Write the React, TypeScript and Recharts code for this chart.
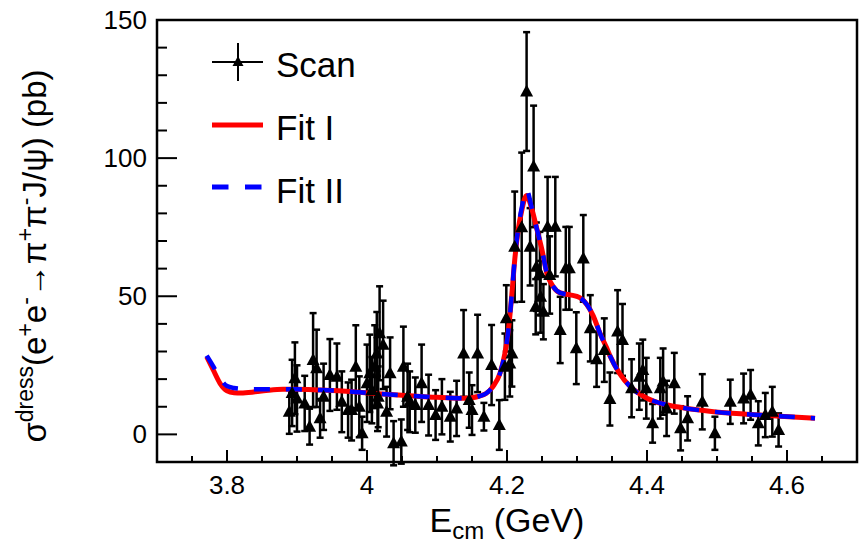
import React from "react";
import {
  ComposedChart,
  Scatter,
  Line,
  XAxis,
  YAxis,
  ErrorBar,
  ReferenceArea,
  Legend,
  Label,
} from "recharts";

// scan points (E in GeV, dressed cross section in pb, stat. error)
const scanE = [
  3.889, 3.893, 3.897, 3.9, 3.911, 3.918, 3.923, 3.928, 3.933, 3.938, 3.947, 3.957, 3.964, 3.973,
  3.978, 3.984, 3.989, 3.993, 4.0, 4.004, 4.007, 4.011, 4.014, 4.015, 4.016, 4.018, 4.023, 4.028,
  4.033, 4.038, 4.049, 4.052, 4.058, 4.061, 4.069, 4.078, 4.088, 4.098, 4.107, 4.119, 4.128, 4.138,
  4.146, 4.15, 4.158, 4.167, 4.178, 4.189, 4.197, 4.199, 4.204, 4.207, 4.211, 4.221, 4.228, 4.233,
  4.238, 4.241, 4.242, 4.247, 4.248, 4.252, 4.258, 4.261, 4.269, 4.276, 4.284, 4.289, 4.299, 4.309,
  4.319, 4.328, 4.339, 4.347, 4.358, 4.365, 4.378, 4.389, 4.394, 4.399, 4.408, 4.419, 4.423, 4.428,
  4.439, 4.448, 4.458, 4.479, 4.497, 4.519, 4.538, 4.548, 4.559, 4.569, 4.579, 4.588,
];
const scanSigma = [
  8.2, 15, 20.3, 13, 11.2, 2.8, 26.9, 23.9, 5.8, 13.6, 21.5, 20.9, 11.8, 8.8,
  8.8, 24.5, 10, 0.4, 18.5, 22.1, 16, 24.5, 29.3, 11.2, 13.6, 36.6, 32.4, 8.2,
  22.1, -3.2, -2.6, 24.5, 13.6, 11.8, 10.6, 18.5, 10.6, 7, 10, 6.4, 9.4, 29.3,
  12.4, 8.8, 29.3, 6.4, 25.1, 3.4, 24.5, 42, 25.7, 29.3, 67.9, 75, 124.1, 67.9,
  97, 46.2, 60.7, 58.3, 49.8, 44.4, 75.2, 57.7, 75.2, 37.8, 60.1, 60.1, 31.2, 63.7,
  38.4, 27.2, 30.5, 12.8, 37.2, 34.2, 16.7, 20.9, 23.3, 16.7, 4, 16.7, 19.1, 9.4,
  18.5, 2.2, 5.8, 11.8, 0.4, 11.8, 13, 14.3, 4, 7, 8.2, 1.6,
];
const scanErr = [
  8, 12, 13, 12, 10, 6.5, 17, 14, 7, 12, 13, 12, 11, 10,
  11, 15, 11, 6, 14, 14, 12, 15, 15, 10, 11, 17, 16, 9,
  13, 8, 8, 14.5, 12, 11, 10, 14, 11, 9, 10, 9, 10, 15.7,
  10, 9, 14, 5, 14.5, 9, 12, 12, 12, 12, 20, 27, 21.5, 14,
  22, 10, 16, 15, 13, 10, 18, 14, 18, 12, 15, 15, 13, 15.7,
  12, 10, 11.5, 9.6, 15, 13, 10.5, 12, 11, 11, 7, 11, 12, 10,
  11, 8, 8, 10, 6, 8, 9, 9, 8, 8, 9, 6,
];

// fit curves
const fitE = [
  3.771, 3.78, 3.79, 3.8, 3.81, 3.82, 3.84, 3.86, 3.88, 3.9, 3.93, 3.96, 4.0, 4.05, 4.1, 4.13, 4.15,
  4.16, 4.17, 4.18, 4.19, 4.197, 4.202, 4.207, 4.211, 4.216, 4.221, 4.228, 4.235, 4.242, 4.25,
  4.257, 4.266, 4.276, 4.29, 4.304, 4.314, 4.323, 4.333, 4.342, 4.347, 4.361, 4.376, 4.4, 4.423,
  4.447, 4.495, 4.542, 4.59, 4.64,
];
const fitISigma = [
  28.1, 23.5, 18.5, 15.8, 15.1, 15, 15.4, 16, 16.3, 16.3, 16.1, 15.8, 15, 14.2, 13.4, 13.1, 13.3,
  13.8, 14.8, 17.3, 22.1, 29.3, 37.8, 51, 63, 74, 81, 86.5, 82, 75, 66.7,
  58.3, 53.5, 51.2, 50.5, 49.5, 47, 43, 36.5, 31.5, 28.5, 22, 17.3, 13.1, 11,
  9.8, 8.2, 7.3, 6.6, 5.8,
];
const fitIISigma = [
  28.5, 24.8, 20.3, 17.5, 16.8, 16.5, 16.3, 16.3, 16.3, 16.3, 16.1, 15.8, 15, 14.2, 13.4, 13.1, 13.3,
  13.8, 14.8, 17.3, 22.1, 29.3, 37.8, 51, 63.5, 74.5, 82, 88.5, 82.4, 75, 66.7,
  58.3, 53.5, 51.2, 50.5, 49.5, 47, 43, 36.5, 31.5, 28.5, 22, 17.3, 13.1, 11,
  9.8, 8.2, 7.3, 6.6, 5.8,
];

const xTicks = [
  3.7, 3.75, 3.8, 3.85, 3.9, 3.95, 4.0, 4.05, 4.1, 4.15, 4.2, 4.25, 4.3, 4.35, 4.4, 4.45, 4.5, 4.55,
  4.6, 4.65, 4.7,
];
const xMajor = [3.8, 4.0, 4.2, 4.4, 4.6];
const yTicks = [-10, 0, 10, 20, 30, 40, 50, 60, 70, 80, 90, 100, 110, 120, 130, 140, 150];
const yMajor = [0, 50, 100, 150];

const FONT = '"Liberation Sans", Arial, Helvetica, sans-serif';

const scanData = scanE.map((E, i) => ({ E, s: scanSigma[i], err: scanErr[i] }));
const fitIData = fitE.map((E, i) => ({ E, s: fitISigma[i] }));
const fitIIData = fitE.map((E, i) => ({ E, s: fitIISigma[i] }));

const isIn = (arr: number[], v: number) => arr.some((m) => Math.abs(m - v) < 1e-6);

const XTick = (props: any) => {
  const { x, y, payload } = props;
  const v = payload.value;
  const major = isIn(xMajor, v);
  return (
    <g>
      <line x1={x} x2={x} y1={y} y2={y - (major ? 12 : 6)} stroke="#000" strokeWidth={2} />
      {major && (
        <text x={x} y={y + 32} textAnchor="middle" fontSize={26} fontFamily={FONT} fill="#000">
          {String(Number(v.toFixed(2)))}
        </text>
      )}
    </g>
  );
};

const YTick = (props: any) => {
  const { x, y, payload } = props;
  const v = payload.value;
  const major = isIn(yMajor, v);
  return (
    <g>
      <line x1={x} x2={x + (major ? 20 : 10)} y1={y} y2={y} stroke="#000" strokeWidth={2} />
      {major && (
        <text x={x - 10} y={y + 9} textAnchor="end" fontSize={26} fontFamily={FONT} fill="#000">
          {v}
        </text>
      )}
    </g>
  );
};

const YTitle = () => {
  const cy = 256;
  const bx = 46;
  return (
    <text
      x={bx}
      y={cy}
      transform={`rotate(-90, ${bx}, ${cy})`}
      textAnchor="middle"
      fontSize={33}
      fontFamily={FONT}
      fill="#000"
    >
      <tspan>σ</tspan>
      <tspan dy={-13} fontSize={23}>dress</tspan>
      <tspan dy={13}>(e</tspan>
      <tspan dy={-13} fontSize={23}>+</tspan>
      <tspan dy={13}>e</tspan>
      <tspan dy={-13} fontSize={23}>-</tspan>
      <tspan dy={13}>→π</tspan>
      <tspan dy={-13} fontSize={23}>+</tspan>
      <tspan dy={13}>π</tspan>
      <tspan dy={-13} fontSize={23}>-</tspan>
      <tspan dy={13}>J/ψ) (pb)</tspan>
    </text>
  );
};

const XTitle = (props: any) => {
  const vb = props.viewBox || { x: 157, y: 462, width: 700, height: 85 };
  const cx = vb.x + vb.width / 2;
  return (
    <text x={cx} y={532} textAnchor="middle" fontSize={34} fontFamily={FONT} fill="#000">
      <tspan>E</tspan>
      <tspan dy={7} fontSize={24}>cm</tspan>
      <tspan dy={-7}> (GeV)</tspan>
    </text>
  );
};

const Triangle = (props: any) => {
  const { cx, cy } = props;
  if (cx == null || cy == null) return null;
  return <path d={`M${cx},${cy - 7} L${cx + 6.5},${cy + 5} L${cx - 6.5},${cy + 5} Z`} fill="#000" />;
};

const LegendBox = () => (
  <svg width={190} height={190} style={{ overflow: "visible" }}>
    <line x1={12} x2={63} y1={32} y2={32} stroke="#000" strokeWidth={2} />
    <line x1={38} x2={38} y1={13} y2={51} stroke="#000" strokeWidth={2} />
    <path d="M38,26 L43.5,36 L32.5,36 Z" fill="#000" />
    <text x={76} y={47} fontSize={35} fontFamily={FONT} fill="#000">Scan</text>
    <line x1={12} x2={63} y1={95} y2={95} stroke="#ff0000" strokeWidth={5} />
    <text x={76} y={110} fontSize={35} fontFamily={FONT} fill="#000">Fit I</text>
    <line x1={12} x2={63} y1={157} y2={157} stroke="#0000ff" strokeWidth={5} strokeDasharray="16.5 16.5" />
    <text x={76} y={173} fontSize={35} fontFamily={FONT} fill="#000">Fit II</text>
  </svg>
);

export default function App() {
  return (
    <div style={{ position: "absolute", left: 0, top: 0, width: 859, height: 547, background: "#fff" }}>
      <ComposedChart width={859} height={547} margin={{ top: 20, right: 2, left: 0, bottom: 0 }}>
        <XAxis
          dataKey="E"
          type="number"
          domain={[3.7, 4.7]}
          ticks={xTicks}
          interval={0}
          tick={XTick}
          tickSize={0}
          tickMargin={0}
          axisLine={false}
          tickLine={false}
          height={85}
          allowDataOverflow
        >
          <Label content={XTitle} />
        </XAxis>
        <YAxis
          type="number"
          domain={[-10, 150]}
          ticks={yTicks}
          interval={0}
          tick={YTick}
          tickSize={0}
          tickMargin={0}
          axisLine={false}
          tickLine={false}
          width={157}
          allowDataOverflow
        >
          <Label content={YTitle} />
        </YAxis>
        <ReferenceArea x1={3.7} x2={4.7} y1={-10} y2={150} fill="none" stroke="#000" strokeWidth={2.5} />
        <Scatter data={scanData} dataKey="s" shape={Triangle} isAnimationActive={false}>
          <ErrorBar dataKey="err" direction="y" width={3.5} stroke="#000" strokeWidth={2.5} />
        </Scatter>
        <Line
          data={fitIData}
          dataKey="s"
          type="monotone"
          stroke="#ff0000"
          strokeWidth={5}
          dot={false}
          activeDot={false}
          isAnimationActive={false}
        />
        <Line
          data={fitIIData}
          dataKey="s"
          type="monotone"
          stroke="#0000ff"
          strokeWidth={4.5}
          strokeDasharray="16 16"
          dot={false}
          activeDot={false}
          isAnimationActive={false}
        />
        <Legend
          layout="vertical"
          align="center"
          verticalAlign="middle"
          wrapperStyle={{ top: 30, left: 200, width: 190, height: 190 }}
          content={LegendBox}
        />
      </ComposedChart>
    </div>
  );
}
